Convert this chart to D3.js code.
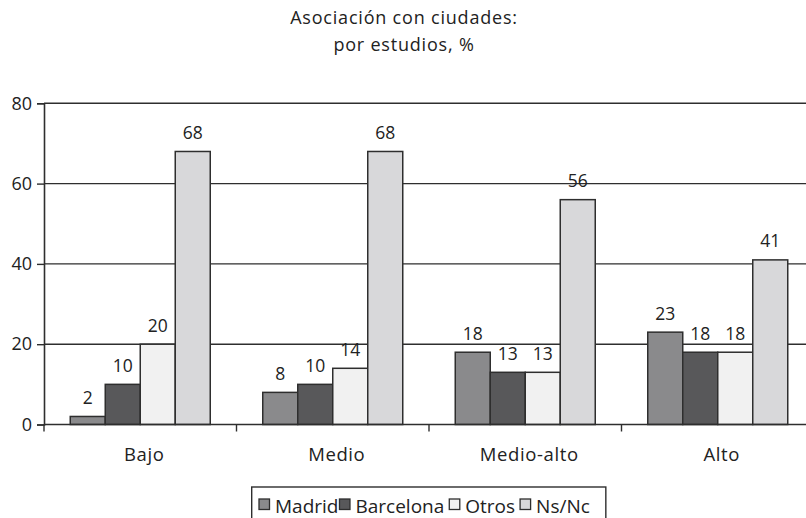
<!DOCTYPE html>
<html><head><meta charset="utf-8">
<script src="https://cdn.jsdelivr.net/npm/d3@7"></script>
<style>
html,body{margin:0;padding:0;background:#fff;}
svg{display:block;font-family:"Open Sans",sans-serif;}
</style></head>
<body>
<svg id="chart" width="806" height="518"></svg>
<script>
const categories = ["Bajo", "Medio", "Medio-alto", "Alto"];
const seriesNames = ["Madrid", "Barcelona", "Otros", "Ns/Nc"];
const madrid = [2, 8, 18, 23];
const barcelona = [10, 10, 13, 18];
const otros = [20, 14, 13, 18];
const nsnc = [68, 68, 56, 41];
const yTicks = [0, 20, 40, 60, 80];
const titleLines = ["Asociación con ciudades:", "por estudios, %"];
const colors = ["#8a8a8c", "#58585a", "#f1f1f1", "#d8d8da"];

(function () {
const seriesValues = [madrid, barcelona, otros, nsnc];
const data = categories.map((c, i) => ({cat: c, vals: seriesNames.map((s, j) => ({s, v: seriesValues[j][i], j}))}));

const svg = d3.select("#chart");
const W = 806;
const pLeft = 44, pRight = 814, pTop = 103.3, pBottom = 424.5;
const stroke = "#2e2e2e";

const x0 = d3.scaleBand().domain(categories).range([pLeft, pRight]).paddingInner(0).paddingOuter(0);
const inner = 26.25 / 192.5;
const x1 = d3.scaleBand().domain(seriesNames).range([x0.bandwidth() * inner, x0.bandwidth() * (1 - inner)]);
const y = d3.scaleLinear().domain([0, 80]).range([pBottom, pTop]);

// title
svg.append("g").selectAll("text").data(titleLines).join("text")
  .attr("x", 404).attr("y", (d, i) => 24 + i * 27)
  .attr("text-anchor", "middle").attr("font-size", 18).attr("letter-spacing", 0.8)
  .attr("fill", "#222").text(d => d);

// gridlines
svg.append("g").selectAll("line").data(yTicks.filter(t => t > 0)).join("line")
  .attr("x1", pLeft).attr("x2", W).attr("y1", d => y(d)).attr("y2", d => y(d))
  .attr("stroke", stroke).attr("stroke-width", 1.4);

// y axis
const yAxis = svg.append("g").attr("transform", `translate(${pLeft},0)`)
  .call(d3.axisLeft(y).tickValues(yTicks).tickSize(7).tickPadding(5));
yAxis.select(".domain").attr("stroke", stroke).attr("stroke-width", 1.6);
yAxis.selectAll(".tick line").attr("stroke", stroke).attr("stroke-width", 1.4);
yAxis.selectAll(".tick text").attr("font-size", 18).attr("fill", "#222").attr("font-family", "Open Sans, sans-serif");

// bars
const groups = svg.append("g").selectAll("g").data(data).join("g")
  .attr("transform", d => `translate(${x0(d.cat)},0)`);
groups.selectAll("rect").data(d => d.vals).join("rect")
  .attr("x", d => x1(d.s)).attr("width", x1.bandwidth())
  .attr("y", d => y(d.v)).attr("height", d => y(0) - y(d.v))
  .attr("fill", d => colors[d.j]).attr("stroke", stroke).attr("stroke-width", 1.5);
groups.selectAll("text").data(d => d.vals).join("text")
  .attr("x", d => x1(d.s) + x1.bandwidth() / 2).attr("y", d => y(d.v) - 12.5)
  .attr("text-anchor", "middle").attr("font-size", 17.5).attr("fill", "#222").text(d => d.v);

// x axis
const xAxisLine = svg.append("g").attr("transform", `translate(0,${pBottom})`);
xAxisLine.append("line").attr("x1", pLeft).attr("x2", W).attr("stroke", stroke).attr("stroke-width", 1.6);
const bounds = categories.map(c => x0(c)).concat([pRight]);
xAxisLine.selectAll("line.tk").data(bounds).join("line").attr("class", "tk")
  .attr("x1", d => d).attr("x2", d => d).attr("y1", 0).attr("y2", 7)
  .attr("stroke", stroke).attr("stroke-width", 1.4);
xAxisLine.selectAll("text").data(categories).join("text")
  .attr("x", d => x0(d) + x0.bandwidth() / 2 + 4).attr("y", 36)
  .attr("text-anchor", "middle").attr("font-size", 18.5).attr("letter-spacing", 0.6)
  .attr("fill", "#222").text(d => d);

// legend
const lg = svg.append("g");
const lgLeft = 251.7, lgTop = 487;
const items = lg.selectAll("g").data(seriesNames).join("g");
items.append("rect").attr("width", 10.5).attr("height", 10.5).attr("y", lgTop + 12)
  .attr("fill", (d, i) => colors[i]).attr("stroke", stroke).attr("stroke-width", 1.3);
items.append("text").attr("x", 16).attr("y", lgTop + 25.5).attr("font-size", 19)
  .attr("fill", "#222").text(d => d);
let cx = lgLeft + 7.3;
const gaps = [0, 1, 5, 5];
items.each(function(d, i) {
  cx += gaps[i];
  d3.select(this).attr("transform", `translate(${cx},0)`);
  const w = d3.select(this).select("text").node().getComputedTextLength();
  cx += 16 + w;
});
lg.insert("rect", ":first-child").attr("x", lgLeft).attr("y", lgTop)
  .attr("width", cx + 16 - lgLeft).attr("height", 40)
  .attr("fill", "#fff").attr("stroke", stroke).attr("stroke-width", 1.4);
})();
</script>
</body></html>
